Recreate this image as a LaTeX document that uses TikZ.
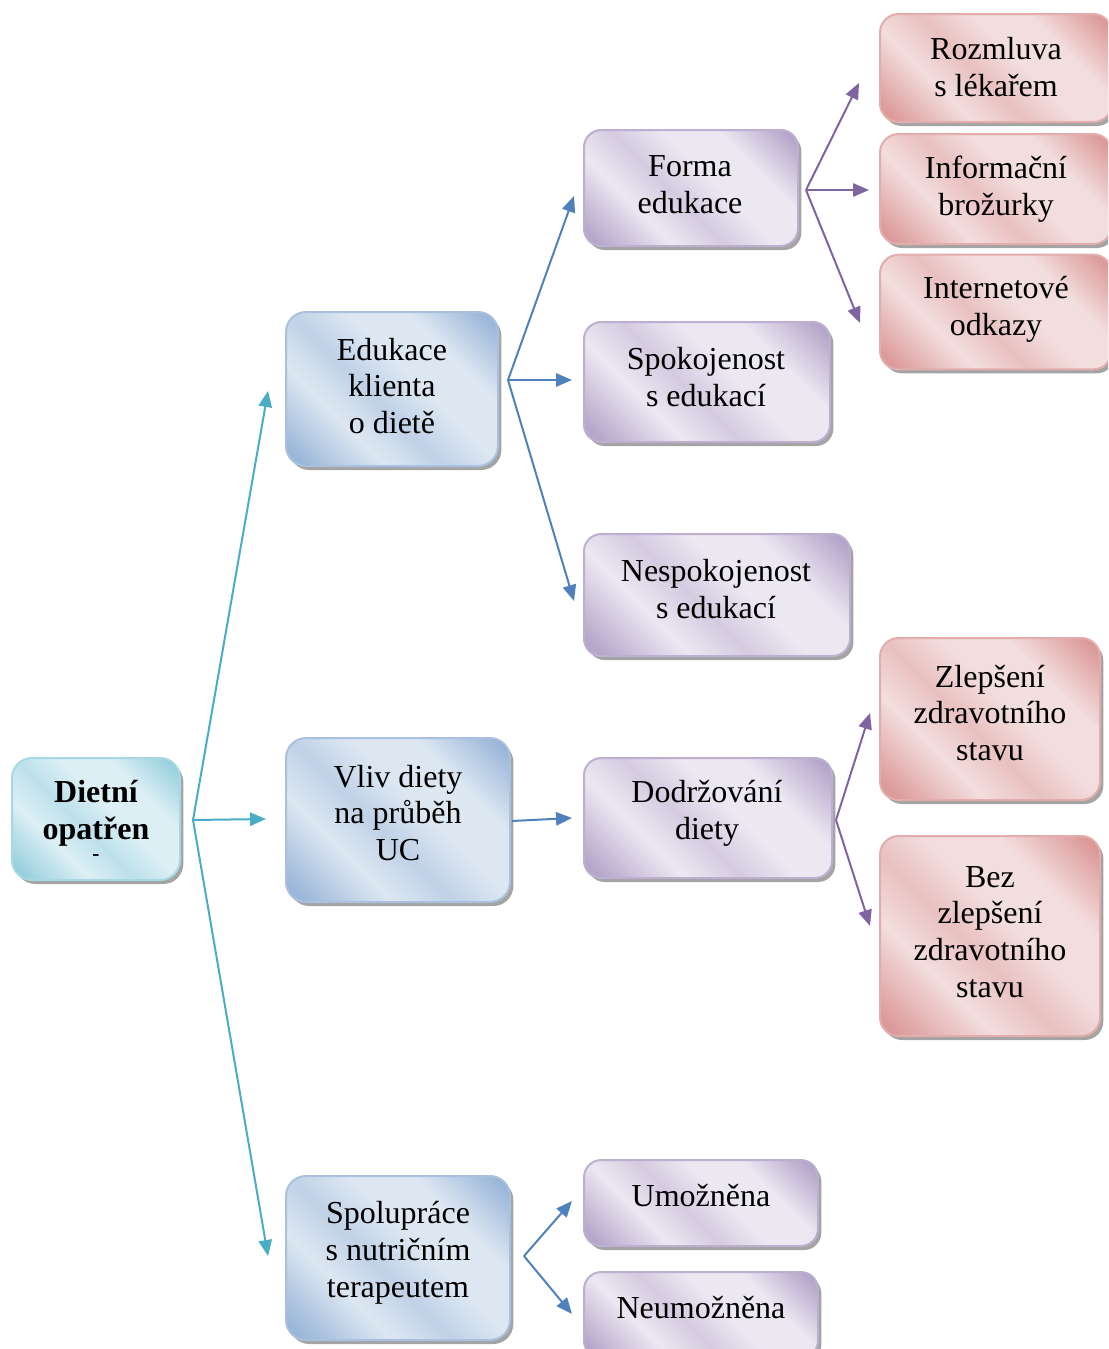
\documentclass[tikz,border=0pt]{standalone}
\usepackage{fontspec}
\setmainfont{Liberation Serif}
\usetikzlibrary{shadows,arrows.meta}
\definecolor{tdark}{HTML}{8ECBDB}
\definecolor{tlight}{HTML}{DCEFF5}
\definecolor{tline}{HTML}{A8D8E4}
\definecolor{bdark}{HTML}{93B1D6}
\definecolor{blight}{HTML}{DDE7F2}
\definecolor{bline}{HTML}{A9C0DE}
\definecolor{pdark}{HTML}{B09FC6}
\definecolor{plight}{HTML}{ECE8F2}
\definecolor{pline}{HTML}{BDAFD0}
\definecolor{rdark}{HTML}{D99392}
\definecolor{rlight}{HTML}{F3DEDE}
\definecolor{rline}{HTML}{E3ADAD}
\definecolor{ateal}{HTML}{4BACC6}
\definecolor{ablue}{HTML}{4F81BD}
\definecolor{apurple}{HTML}{8064A2}
\pgfdeclarehorizontalshading{tshade}{100bp}{color(0bp)=(tdark); color(18bp)=(tdark!90!tlight); color(34bp)=(tlight); color(45bp)=(tdark!40!tlight); color(56bp)=(tlight); color(68bp)=(tlight); color(84bp)=(tdark); color(100bp)=(tdark)}
\pgfdeclarehorizontalshading{bshade}{100bp}{color(0bp)=(bdark); color(18bp)=(bdark!90!blight); color(34bp)=(blight); color(45bp)=(bdark!40!blight); color(56bp)=(blight); color(68bp)=(blight); color(84bp)=(bdark); color(100bp)=(bdark)}
\pgfdeclarehorizontalshading{pshade}{100bp}{color(0bp)=(pdark); color(18bp)=(pdark!90!plight); color(34bp)=(plight); color(45bp)=(pdark!40!plight); color(56bp)=(plight); color(68bp)=(plight); color(84bp)=(pdark); color(100bp)=(pdark)}
\pgfdeclarehorizontalshading{rshade}{100bp}{color(0bp)=(rdark); color(18bp)=(rdark!90!rlight); color(34bp)=(rlight); color(45bp)=(rdark!40!rlight); color(56bp)=(rlight); color(68bp)=(rlight); color(84bp)=(rdark); color(100bp)=(rdark)}
\tikzset{
  boxbase/.style={rounded corners=15pt, line width=1.5pt, inner sep=0pt, shading angle=45,
    drop shadow={shadow xshift=2.5pt, shadow yshift=-3pt, fill=black!42, opacity=0.85}},
  tealbox/.style={boxbase, shading=tshade, draw=tline},
  bluebox/.style={boxbase, shading=bshade, draw=bline},
  purplebox/.style={boxbase, shading=pshade, draw=pline, rounded corners=13pt},
  redbox/.style={boxbase, shading=rshade, draw=rline, rounded corners=14pt},
  txt/.style={inner sep=0pt, align=center, font=\fontsize{24}{27.6}\selectfont},
  conn/.style={line width=1.5pt, -{Triangle[length=12pt,width=10pt]}},
  tealconn/.style={conn, draw=ateal, fill=ateal},
  blueconn/.style={conn, draw=ablue, fill=ablue},
  purpleconn/.style={conn, draw=apurple, fill=apurple},
}
\begin{document}
\begin{tikzpicture}[x=0.75pt,y=-0.75pt]
\useasboundingbox (0,0) rectangle (1108,1349);
\clip (0,0) rectangle (1108,1349);
% level 0
\node[tealbox, minimum width=126pt, minimum height=91.5pt] (root) at (96,819) {};
\node[txt, font=\fontsize{24}{27.6}\selectfont\bfseries] (roottext) at (96,813) {Dietní\\opatřen};
\node[inner sep=0pt, font=\fontsize{16}{16}\selectfont\bfseries] (rootdash) at (96,858) {-};
% level 1
\node[bluebox, minimum width=159pt, minimum height=115.5pt] (edu) at (392,389) {};
\node[txt] (edu-t) at (392,386) {Edukace\\klienta\\o dietě};
\node[bluebox, minimum width=168pt, minimum height=123pt] (vliv) at (398,820) {};
\node[txt] (vliv-t) at (398,813) {Vliv diety\\na průběh\\UC};
\node[bluebox, minimum width=168pt, minimum height=123pt] (spol) at (398,1258) {};
\node[txt] (spol-t) at (398,1253) {Spolupráce\\s nutričním\\terapeutem};
% level 2
\node[purplebox, minimum width=160.5pt, minimum height=87pt] (forma) at (691,188) {};
\node[txt] (forma-t) at (690,185) {Forma\\edukace};
\node[purplebox, minimum width=184.5pt, minimum height=90pt] (spok) at (707,382) {};
\node[txt] (spok-t) at (706,377) {Spokojenost\\s edukací};
\node[purplebox, minimum width=199.5pt, minimum height=91.5pt] (nesp) at (717,595) {};
\node[txt] (nesp-t) at (716,589) {Nespokojenost\\s edukací};
\node[purplebox, minimum width=186pt, minimum height=90pt] (dodr) at (708,818) {};
\node[txt] (dodr-t) at (707,813) {Dodržování\\diety};
\node[purplebox, minimum width=175.5pt, minimum height=64.5pt] (umoz) at (701,1203) {};
\node[txt] (umoz-t) at (701,1196) {Umožněna};
\node[purplebox, minimum width=175.5pt, minimum height=64.5pt] (neum) at (701,1315) {};
\node[txt] (neum-t) at (701,1308) {Neumožněna};
% level 3
\node[redbox, minimum width=174pt, minimum height=81pt] (rozm) at (996,68) {};
\node[txt] (rozm-t) at (996,67) {Rozmluva\\s lékařem};
\node[redbox, minimum width=174pt, minimum height=82.5pt] (info) at (996,189) {};
\node[txt] (info-t) at (996,189) {Informační\\brožurky};
\node[redbox, minimum width=174pt, minimum height=86pt] (inter) at (996,312) {};
\node[txt] (inter-t) at (996,309) {Internetové\\odkazy};
\node[redbox, minimum width=165pt, minimum height=121.5pt] (zlep) at (990,719) {};
\node[txt] (zlep-t) at (990,713) {Zlepšení\\zdravotního\\stavu};
\node[redbox, minimum width=165pt, minimum height=150pt] (bez) at (990,936) {};
\node[txt] (bez-t) at (990,932) {Bez\\zlepšení\\zdravotního\\stavu};
% fork coordinates
\coordinate (f0) at (193,820);
\coordinate (t0a) at (268,391);
\coordinate (t0b) at (266,819);
\coordinate (t0c) at (268,1256);
\coordinate (f1) at (508,380);
\coordinate (t1a) at (574,196);
\coordinate (t1b) at (572,380);
\coordinate (t1c) at (574,601);
\coordinate (f2) at (512,821);
\coordinate (t2) at (572,818);
\coordinate (f3) at (524,1256);
\coordinate (t3a) at (572,1201);
\coordinate (t3b) at (572,1314);
\coordinate (f4) at (806,190);
\coordinate (t4a) at (859,83);
\coordinate (t4b) at (869,190);
\coordinate (t4c) at (860,323);
\coordinate (f5) at (836,820);
\coordinate (t5a) at (870,713);
\coordinate (t5b) at (870,926);
% connectors
\draw[tealconn] (f0) -- (t0a);
\draw[tealconn] (f0) -- (t0b);
\draw[tealconn] (f0) -- (t0c);
\draw[blueconn] (f1) -- (t1a);
\draw[blueconn] (f1) -- (t1b);
\draw[blueconn] (f1) -- (t1c);
\draw[blueconn] (f2) -- (t2);
\draw[blueconn] (f3) -- (t3a);
\draw[blueconn] (f3) -- (t3b);
\draw[purpleconn] (f4) -- (t4a);
\draw[purpleconn] (f4) -- (t4b);
\draw[purpleconn] (f4) -- (t4c);
\draw[purpleconn] (f5) -- (t5a);
\draw[purpleconn] (f5) -- (t5b);
\end{tikzpicture}
\end{document}
